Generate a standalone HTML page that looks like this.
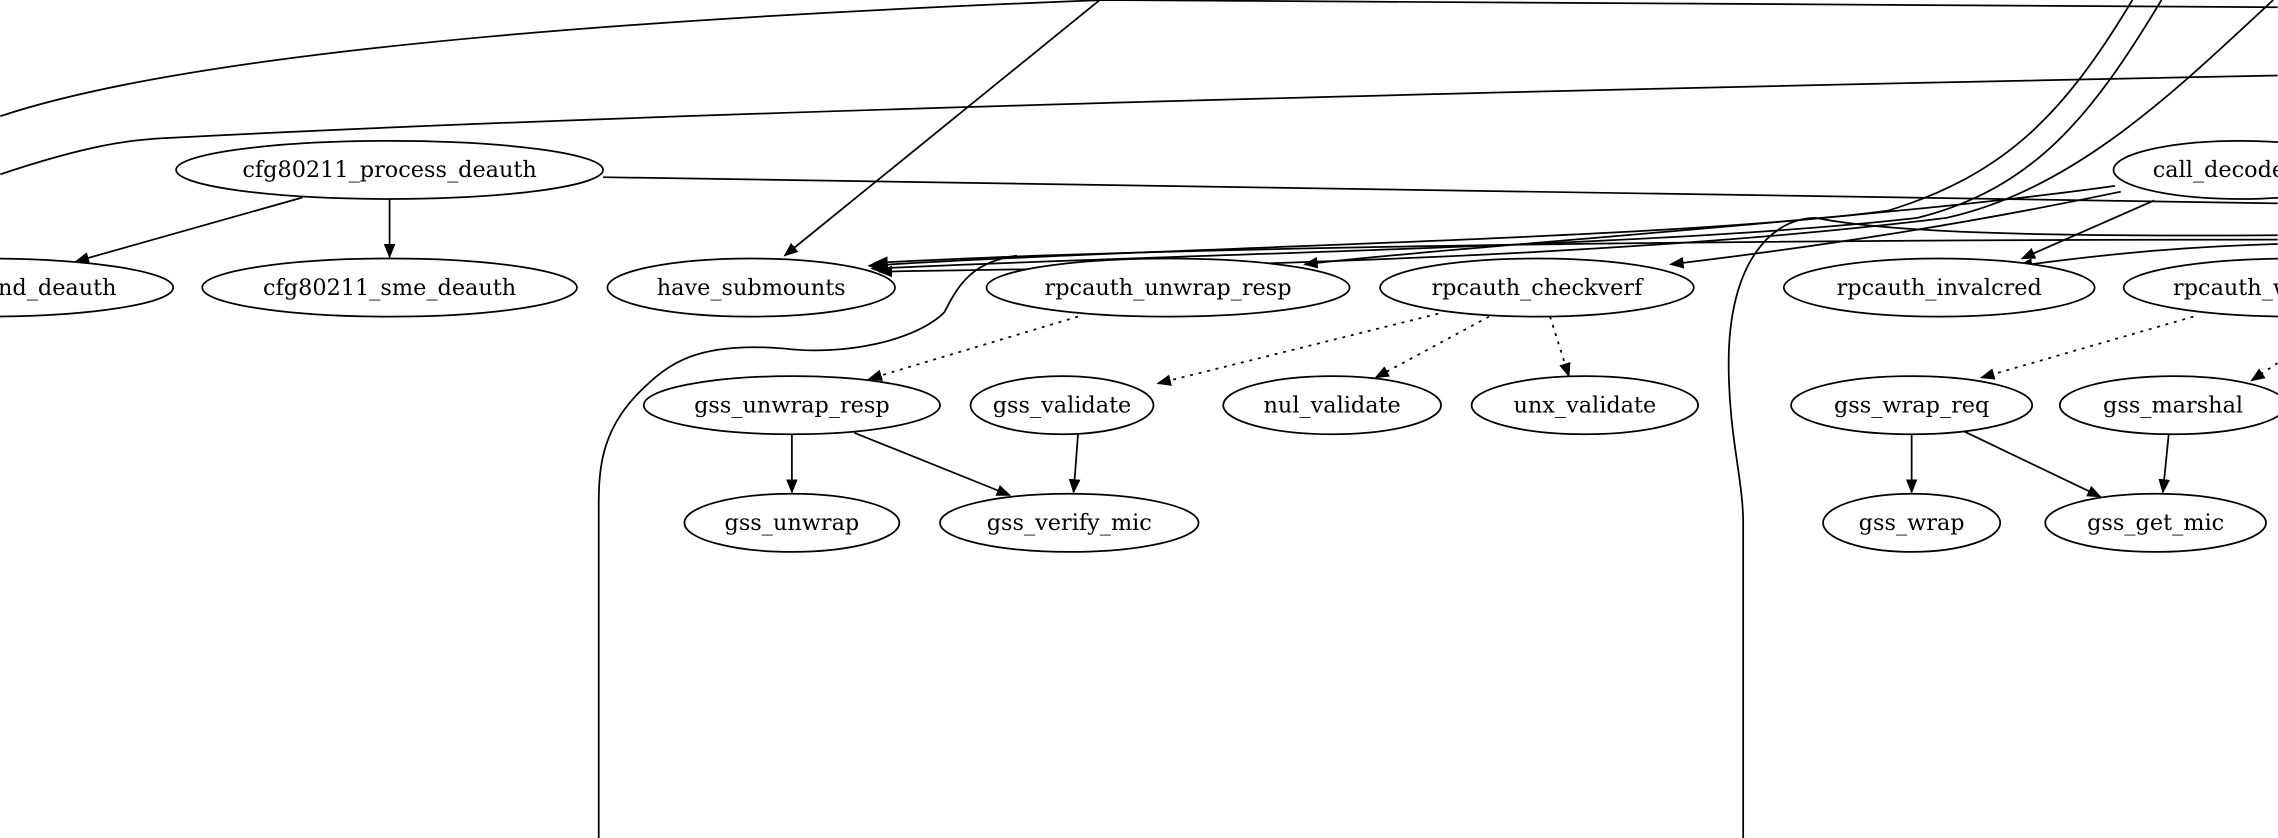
<!DOCTYPE html>
<html><head><meta charset="utf-8"><style>
html,body{margin:0;padding:0;background:#fff;width:2278px;height:838px;overflow:hidden}
svg{display:block}
text{font-family:"DejaVu Serif","Liberation Serif",serif;font-size:15.4px;text-anchor:middle;fill:#000}
ellipse{fill:#fff;stroke:#000;stroke-width:1.2}
path{fill:none;stroke:#000;stroke-width:1.2}
.d{stroke-dasharray:2,4}
</style></head><body>
<svg width="2278" height="838" viewBox="0 0 1568 577" xmlns="http://www.w3.org/2000/svg">
<defs><marker id="a" markerWidth="10" markerHeight="8" refX="9" refY="4" orient="auto" markerUnits="userSpaceOnUse"><polygon points="0,0 10,4 0,8" fill="#000"/></marker></defs>
<path d="M0,80 C150,30 500,10 760,0 L1568,5"/>
<path d="M0,120 C60,100 90,96 115,95 C400,80 900,65 1568,52"/>
<path d="M415,122 L1568,140"/>
<path d="M757,0 L540,176" marker-end="url(#a)"/>
<path d="M1468,0 C1420,80 1380,120 1300,145 C1150,165 800,170 598,183" marker-end="url(#a)"/>
<path d="M1488,0 C1440,80 1400,130 1320,150 C1150,170 800,175 600,185" marker-end="url(#a)"/>
<path d="M1565,0 C1500,60 1430,130 1340,150 C1100,180 750,185 605,187" marker-end="url(#a)"/>
<path d="M1568,165 C1200,165 800,170 602,181" marker-end="url(#a)"/>
<path d="M1456,128 C1300,150 1000,170 898,182" marker-end="url(#a)"/>
<path d="M1460,132 C1350,155 1250,170 1150,182" marker-end="url(#a)"/>
<path d="M1483,138 L1392,178" marker-end="url(#a)"/>
<path d="M1568,168 C1500,170 1450,175 1390,183" marker-end="url(#a)"/>
<path d="M1568,162 C1400,163 1300,160 1250,150 C1220,150 1190,180 1190,250 C1190,300 1200,330 1200,360 L1200,577"/>
<path d="M700,176 C670,180 660,195 650,215 C630,235 580,245 540,240 C480,235 460,250 440,270 C410,300 412,330 412,360 L412,577"/>
<path d="M208,136 L52,180" marker-end="url(#a)"/>
<path d="M268,137 L268,177" marker-end="url(#a)"/>
<path d="M545,299 L545,339" marker-end="url(#a)"/>
<path d="M588,298 L695,341" marker-end="url(#a)"/>
<path d="M742,299 L739,339" marker-end="url(#a)"/>
<path d="M1316,299 L1316,339" marker-end="url(#a)"/>
<path d="M1352,297 L1446,342" marker-end="url(#a)"/>
<path d="M1493,299 L1489,339" marker-end="url(#a)"/>
<path class="d" d="M742,218 L598,261" marker-end="url(#a)"/>
<path class="d" d="M990,216 L797,264" marker-end="url(#a)"/>
<path class="d" d="M1025,218 L947,260" marker-end="url(#a)"/>
<path class="d" d="M1067,218 L1080,259" marker-end="url(#a)"/>
<path class="d" d="M1510,218 L1364,260" marker-end="url(#a)"/>
<path class="d" d="M1568,250 L1550,262" marker-end="url(#a)"/>
<ellipse cx="268" cy="117" rx="147" ry="20"/><text x="268" y="122">cfg80211_process_deauth</text>
<ellipse cx="1542" cy="117" rx="87" ry="20"/><text x="1482" y="122" style="text-anchor:start">call_decode</text>
<ellipse cx="-10" cy="198" rx="129" ry="20"/><text x="80" y="203" style="text-anchor:end">cfg80211_send_deauth</text>
<ellipse cx="268" cy="198" rx="129" ry="20"/><text x="268" y="203">cfg80211_sme_deauth</text>
<ellipse cx="517" cy="198" rx="99" ry="20"/><text x="517" y="203">have_submounts</text>
<ellipse cx="804" cy="198" rx="125" ry="20"/><text x="804" y="203">rpcauth_unwrap_resp</text>
<ellipse cx="1058" cy="198" rx="108" ry="20"/><text x="1058" y="203">rpcauth_checkverf</text>
<ellipse cx="1335" cy="198" rx="107" ry="20"/><text x="1335" y="203">rpcauth_invalcred</text>
<ellipse cx="1580" cy="198" rx="118" ry="20"/><text x="1496" y="203" style="text-anchor:start">rpcauth_wrap_req</text>
<ellipse cx="545" cy="279" rx="102" ry="20"/><text x="545" y="284">gss_unwrap_resp</text>
<ellipse cx="731" cy="279" rx="63" ry="20"/><text x="731" y="284">gss_validate</text>
<ellipse cx="917" cy="279" rx="75" ry="20"/><text x="917" y="284">nul_validate</text>
<ellipse cx="1091" cy="279" rx="78" ry="20"/><text x="1091" y="284">unx_validate</text>
<ellipse cx="1316" cy="279" rx="83" ry="20"/><text x="1316" y="284">gss_wrap_req</text>
<ellipse cx="1496" cy="279" rx="78" ry="20"/><text x="1496" y="284">gss_marshal</text>
<ellipse cx="545" cy="360" rx="74" ry="20"/><text x="545" y="365">gss_unwrap</text>
<ellipse cx="736" cy="360" rx="89" ry="20"/><text x="736" y="365">gss_verify_mic</text>
<ellipse cx="1316" cy="360" rx="61" ry="20"/><text x="1316" y="365">gss_wrap</text>
<ellipse cx="1484" cy="360" rx="76" ry="20"/><text x="1484" y="365">gss_get_mic</text>
</svg>
</body></html>
